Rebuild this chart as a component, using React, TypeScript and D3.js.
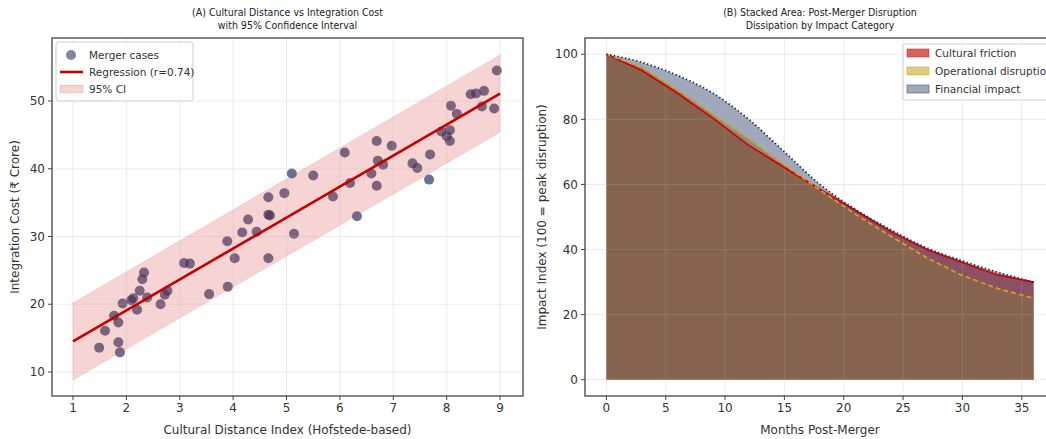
import React, { useRef, useEffect } from 'react';
import * as d3 from 'd3';

// panel A : merger cases
const distance = [1.49, 1.60, 1.77, 1.85, 1.85, 1.88, 1.93, 2.09, 2.13, 2.20, 2.25, 2.30, 2.33, 2.39, 2.64, 2.72, 2.77,
  3.08, 3.19, 3.55, 3.90, 3.89, 4.03, 4.17, 4.28, 4.44, 4.66, 4.66, 4.69, 4.66, 4.96, 5.14, 5.10, 5.50, 5.87,
  6.09, 6.19, 6.32, 6.59, 6.69, 6.71, 6.81, 6.69, 6.97, 7.36, 7.45, 7.69, 7.67, 7.90, 8.00, 8.06, 8.06, 8.08,
  8.19, 8.45, 8.55, 8.70, 8.66, 8.89, 8.94];
const cost = [13.6, 16.1, 18.3, 17.3, 14.4, 12.9, 20.1, 20.6, 20.9, 19.2, 22.0, 23.7, 24.7, 21.0, 20.0, 21.4, 22.0,
  26.1, 26.0, 21.5, 22.6, 29.3, 26.8, 30.6, 32.5, 30.7, 35.8, 33.2, 33.1, 26.8, 36.4, 30.4, 39.3, 39.0, 35.9,
  42.4, 37.9, 33.0, 39.3, 44.1, 41.2, 40.6, 37.5, 43.4, 40.8, 40.1, 42.1, 38.4, 45.5, 44.8, 45.7, 44.1, 49.3,
  48.1, 51.0, 51.1, 51.5, 49.2, 48.9, 54.5];
const REG_INTERCEPT = 9.93;
const REG_SLOPE = 4.575;
const CI_HALF = 5.7;
const regX = [1, 9];
const xTicksA = [1, 2, 3, 4, 5, 6, 7, 8, 9];
const yTicksA = [10, 20, 30, 40, 50];

// panel B : disruption curves
const months = [0, 3, 6, 9, 12, 15, 18, 21, 24, 27, 30, 33, 36];
const cultural = [100, 95, 88, 80.3, 72, 65.2, 58.5, 52, 45.5, 40, 36, 32.2, 30];
const operational = [100, 96, 89, 81.5, 74, 66, 58.3, 50.8, 44, 37.5, 32, 28, 25];
const financial = [100, 97.5, 93.5, 88, 80, 70, 60, 52.3, 46, 40.5, 36.5, 33, 30];
const xTicksB = [0, 5, 10, 15, 20, 25, 30, 35];
const yTicksB = [0, 20, 40, 60, 80, 100];

const FONT = 'DejaVu Sans, Verdana, sans-serif';
const PT_COLOR = '#263866';
const PT_ALPHA = 0.7;

function App() {
  const svgRef = useRef(null);

  useEffect(() => {
    const svg = d3.select(svgRef.current);
    svg.selectAll('*').remove();
    const defs = svg.append('defs');

    // ---------- panel A ----------
    const ax = { l: 52, r: 523, t: 38, b: 396 };
    const x = d3.scaleLinear().domain([0.607, 9.43]).range([ax.l, ax.r]);
    const y = d3.scaleLinear().domain([6.46, 59.3]).range([ax.b, ax.t]);

    defs.append('clipPath').attr('id', 'clipA').append('rect')
      .attr('x', ax.l).attr('y', ax.t).attr('width', ax.r - ax.l).attr('height', ax.b - ax.t);
    const gA = svg.append('g').attr('clip-path', 'url(#clipA)');

    gA.selectAll('circle.pt').data(distance).enter().append('circle')
      .attr('cx', d => x(d))
      .attr('cy', (d, i) => y(cost[i]))
      .attr('r', 5)
      .attr('fill', PT_COLOR)
      .attr('fill-opacity', PT_ALPHA);

    const band = d3.area()
      .x(d => x(d))
      .y0(d => y(REG_INTERCEPT + REG_SLOPE * d - CI_HALF))
      .y1(d => y(REG_INTERCEPT + REG_SLOPE * d + CI_HALF));
    gA.append('path').datum(regX).attr('d', band)
      .attr('fill', '#d62728').attr('fill-opacity', 0.2)
      .attr('stroke', '#d62728').attr('stroke-opacity', 0.12);

    xTicksA.forEach(t => gA.append('line').attr('x1', x(t)).attr('x2', x(t)).attr('y1', ax.t).attr('y2', ax.b)
      .attr('stroke', '#b0b0b0').attr('stroke-opacity', 0.3).attr('stroke-width', 0.8));
    yTicksA.forEach(t => gA.append('line').attr('x1', ax.l).attr('x2', ax.r).attr('y1', y(t)).attr('y2', y(t))
      .attr('stroke', '#b0b0b0').attr('stroke-opacity', 0.3).attr('stroke-width', 0.8));

    const reg = d3.line().x(d => x(d)).y(d => y(REG_INTERCEPT + REG_SLOPE * d));
    gA.append('path').datum(regX).attr('d', reg)
      .attr('fill', 'none').attr('stroke', '#c40000').attr('stroke-width', 2.6);

    svg.append('rect').attr('x', ax.l).attr('y', ax.t).attr('width', ax.r - ax.l).attr('height', ax.b - ax.t)
      .attr('fill', 'none').attr('stroke', '#444').attr('stroke-width', 1.3);

    xTicksA.forEach(t => {
      svg.append('line').attr('x1', x(t)).attr('x2', x(t)).attr('y1', ax.b).attr('y2', ax.b + 4).attr('stroke', '#444');
      svg.append('text').attr('x', x(t)).attr('y', ax.b + 16).attr('text-anchor', 'middle')
        .style('font-family', FONT).style('font-size', '12px').style('fill', '#333').text(t);
    });
    yTicksA.forEach(t => {
      svg.append('line').attr('x1', ax.l - 4).attr('x2', ax.l).attr('y1', y(t)).attr('y2', y(t)).attr('stroke', '#444');
      svg.append('text').attr('x', ax.l - 7).attr('y', y(t)).attr('dy', '0.35em').attr('text-anchor', 'end')
        .style('font-family', FONT).style('font-size', '12px').style('fill', '#333').text(t);
    });
    svg.append('text').attr('x', (ax.l + ax.r) / 2).attr('y', 434).attr('text-anchor', 'middle')
      .style('font-family', FONT).style('font-size', '12px').style('fill', '#333')
      .text('Cultural Distance Index (Hofstede-based)');
    svg.append('text').attr('transform', `translate(19, ${(ax.t + ax.b) / 2}) rotate(-90)`).attr('text-anchor', 'middle')
      .style('font-family', FONT).style('font-size', '12px').style('fill', '#333')
      .text('Integration Cost (₹ Crore)');
    ['(A) Cultural Distance vs Integration Cost', 'with 95% Confidence Interval'].forEach((s, i) => {
      svg.append('text').attr('x', (ax.l + ax.r) / 2).attr('y', 16 + i * 13).attr('text-anchor', 'middle')
        .style('font-family', 'DejaVu Sans Condensed, DejaVu Sans, sans-serif').style('font-stretch', 'condensed')
        .style('font-size', '10.5px').style('fill', '#222').text(s);
    });

    // legend A
    const lgA = svg.append('g');
    lgA.append('rect').attr('x', 56).attr('y', 42).attr('width', 137).attr('height', 59).attr('rx', 3)
      .attr('fill', '#fff').attr('fill-opacity', 0.8).attr('stroke', '#d0d0d0');
    lgA.append('circle').attr('cx', 71).attr('cy', 55).attr('r', 5).attr('fill', PT_COLOR).attr('fill-opacity', 0.6);
    lgA.append('line').attr('x1', 60).attr('x2', 83).attr('y1', 72).attr('y2', 72).attr('stroke', '#c40000').attr('stroke-width', 2.6);
    lgA.append('rect').attr('x', 60).attr('y', 85).attr('width', 23).attr('height', 8)
      .attr('fill', '#d62728').attr('fill-opacity', 0.2).attr('stroke', '#d62728').attr('stroke-opacity', 0.15);
    ['Merger cases', 'Regression (r=0.74)', '95% CI'].forEach((s, i) => {
      lgA.append('text').attr('x', 89).attr('y', 55 + i * 17).attr('dy', '0.35em')
        .style('font-family', FONT).style('font-size', '10.5px').style('fill', '#333').text(s);
    });

    // ---------- panel B ----------
    const bx = { l: 585, r: 1055, t: 38, b: 396 };
    const xb = d3.scaleLinear().domain([-1.8, 37.8]).range([bx.l, bx.r]);
    const yb = d3.scaleLinear().domain([-5, 105]).range([bx.b, bx.t]);

    defs.append('clipPath').attr('id', 'clipB').append('rect')
      .attr('x', bx.l).attr('y', bx.t).attr('width', bx.r - bx.l).attr('height', bx.b - bx.t);
    const gB = svg.append('g').attr('clip-path', 'url(#clipB)');

    const series = [
      { vals: cultural, fill: 'rgb(200,30,30)', op: 0.7, stroke: '#d00000', dash: null, width: 1.7, curve: d3.curveLinear },
      { vals: operational, fill: 'rgb(200,160,30)', op: 0.55, stroke: '#d9a21b', dash: '5,3', width: 1.7, curve: d3.curveLinear },
      { vals: financial, fill: 'rgb(44,62,107)', op: 0.45, stroke: '#1f2d5c', dash: '1.4,2.4', width: 1.8, curve: d3.curveMonotoneX },
    ];
    series.forEach(s => {
      const area = d3.area().x((d, i) => xb(months[i])).y0(yb(0)).y1(d => yb(d)).curve(s.curve);
      gB.append('path').datum(s.vals).attr('d', area).attr('fill', s.fill).attr('fill-opacity', s.op);
    });

    xTicksB.forEach(t => gB.append('line').attr('x1', xb(t)).attr('x2', xb(t)).attr('y1', bx.t).attr('y2', bx.b)
      .attr('stroke', '#b0b0b0').attr('stroke-opacity', 0.3).attr('stroke-width', 0.8));
    yTicksB.forEach(t => gB.append('line').attr('x1', bx.l).attr('x2', bx.r).attr('y1', yb(t)).attr('y2', yb(t))
      .attr('stroke', '#b0b0b0').attr('stroke-opacity', 0.3).attr('stroke-width', 0.8));

    series.forEach(s => {
      const line = d3.line().x((d, i) => xb(months[i])).y(d => yb(d)).curve(s.curve);
      const p = gB.append('path').datum(s.vals).attr('d', line)
        .attr('fill', 'none').attr('stroke', s.stroke).attr('stroke-width', s.width);
      if (s.dash) p.attr('stroke-dasharray', s.dash);
    });

    svg.append('rect').attr('x', bx.l).attr('y', bx.t).attr('width', bx.r - bx.l).attr('height', bx.b - bx.t)
      .attr('fill', 'none').attr('stroke', '#444').attr('stroke-width', 1.3);

    xTicksB.forEach(t => {
      svg.append('line').attr('x1', xb(t)).attr('x2', xb(t)).attr('y1', bx.b).attr('y2', bx.b + 4).attr('stroke', '#444');
      svg.append('text').attr('x', xb(t)).attr('y', bx.b + 16).attr('text-anchor', 'middle')
        .style('font-family', FONT).style('font-size', '12px').style('fill', '#333').text(t);
    });
    yTicksB.forEach(t => {
      svg.append('line').attr('x1', bx.l - 4).attr('x2', bx.l).attr('y1', yb(t)).attr('y2', yb(t)).attr('stroke', '#444');
      svg.append('text').attr('x', bx.l - 7).attr('y', yb(t)).attr('dy', '0.35em').attr('text-anchor', 'end')
        .style('font-family', FONT).style('font-size', '12px').style('fill', '#333').text(t);
    });
    svg.append('text').attr('x', (bx.l + bx.r) / 2).attr('y', 434).attr('text-anchor', 'middle')
      .style('font-family', FONT).style('font-size', '12px').style('fill', '#333').text('Months Post-Merger');
    svg.append('text').attr('transform', `translate(546, ${(bx.t + bx.b) / 2}) rotate(-90)`).attr('text-anchor', 'middle')
      .style('font-family', FONT).style('font-size', '12px').style('fill', '#333')
      .text('Impact Index (100 = peak disruption)');
    ['(B) Stacked Area: Post-Merger Disruption', 'Dissipation by Impact Category'].forEach((s, i) => {
      svg.append('text').attr('x', (bx.l + bx.r) / 2).attr('y', 16 + i * 13).attr('text-anchor', 'middle')
        .style('font-family', 'DejaVu Sans Condensed, DejaVu Sans, sans-serif').style('font-stretch', 'condensed')
        .style('font-size', '10.5px').style('fill', '#222').text(s);
    });

    // legend B (runs past the right edge, as in the original figure)
    const lgB = svg.append('g');
    lgB.append('rect').attr('x', 903).attr('y', 44).attr('width', 160).attr('height', 56).attr('rx', 3)
      .attr('fill', '#fff').attr('fill-opacity', 0.8).attr('stroke', '#d0d0d0');
    ['Cultural friction', 'Operational disruption', 'Financial impact'].forEach((s, i) => {
      lgB.append('rect').attr('x', 907).attr('y', 49 + i * 18).attr('width', 22).attr('height', 8)
        .attr('fill', series[i].fill).attr('fill-opacity', series[i].op)
        .attr('stroke', series[i].fill).attr('stroke-opacity', 0.5);
      lgB.append('text').attr('x', 935).attr('y', 53 + i * 18).attr('dy', '0.35em')
        .style('font-family', FONT).style('font-size', '10.5px').style('fill', '#333').text(s);
    });
  }, []);

  return (
    <svg ref={svgRef} width={1046} height={439}
      style={{ position: 'absolute', left: 0, top: 0, background: '#fff' }} />
  );
}

export default App;
